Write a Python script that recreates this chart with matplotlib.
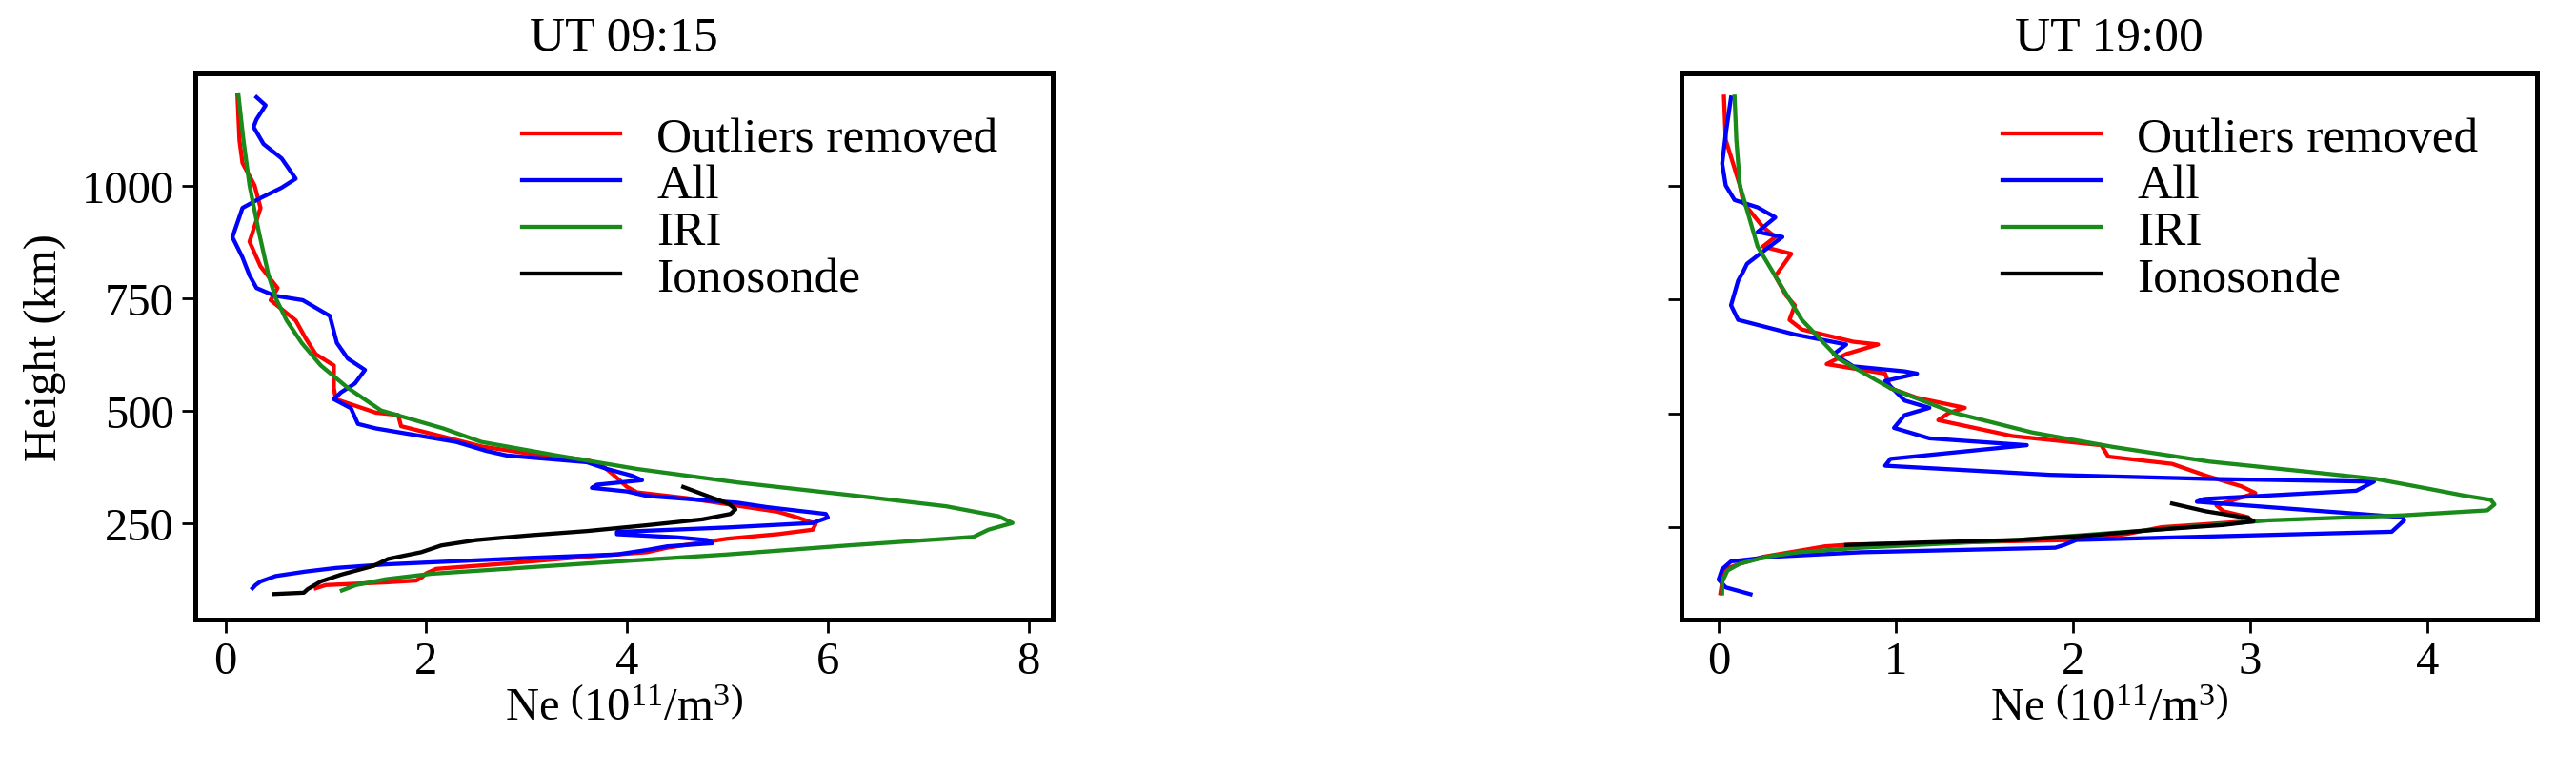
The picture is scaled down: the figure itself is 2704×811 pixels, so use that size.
import matplotlib
matplotlib.use("Agg")
import matplotlib.pyplot as plt

# ---------------- data: UT 09:15 (left) ----------------
l_red_h = [105, 112, 118, 122, 128, 138, 148, 160, 175, 185, 195, 205, 215, 225, 235, 248, 262, 275, 290, 305, 318, 330, 340, 360, 378, 390, 405, 420, 440, 465, 490, 495, 525, 550, 600, 625, 660, 700, 745, 772, 800, 820, 875, 950, 1000, 1050, 1100, 1150, 1200]
l_red_x = [0.90, 1.0, 1.6, 1.9, 1.95, 2.0, 2.1, 2.8, 3.6, 4.2, 4.4, 4.7, 5.0, 5.5, 5.85, 5.88, 5.7, 5.5, 5.05, 4.6, 4.1, 4.0, 3.95, 3.85, 3.75, 3.6, 3.0, 2.55, 2.2, 1.75, 1.72, 1.5, 1.1, 1.08, 1.08, 0.9, 0.8, 0.70, 0.45, 0.52, 0.42, 0.35, 0.24, 0.35, 0.29, 0.17, 0.14, 0.13, 0.12]

l_blue_h = [105, 112, 120, 132, 142, 150, 158, 172, 180, 190, 198, 205, 212, 218, 225, 230, 240, 250, 262, 270, 285, 295, 310, 320, 328, 335, 345, 355, 370, 385, 400, 410, 430, 445, 460, 470, 490, 505, 525, 540, 560, 590, 615, 650, 710, 745, 755, 772, 800, 840, 885, 950, 972, 995, 1015, 1060, 1092, 1130, 1147, 1178, 1196]
l_blue_x = [0.27, 0.30, 0.35, 0.50, 0.8, 1.1, 1.6, 3.0, 3.9, 4.2, 4.4, 4.85, 4.8, 4.5, 3.9, 3.9, 5.0, 5.85, 6.0, 5.98, 5.4, 5.1, 4.2, 4.0, 3.65, 3.7, 4.15, 4.05, 3.8, 3.6, 2.8, 2.6, 2.3, 1.9, 1.5, 1.32, 1.28, 1.25, 1.08, 1.15, 1.29, 1.39, 1.22, 1.11, 1.04, 0.77, 0.49, 0.31, 0.24, 0.17, 0.07, 0.17, 0.35, 0.56, 0.70, 0.56, 0.38, 0.28, 0.31, 0.40, 0.31]

l_iri_h = [100, 112, 125, 137, 160, 180, 200, 219, 235, 250, 265, 287, 310, 340, 370, 400, 430, 460, 500, 550, 600, 650, 700, 750, 800, 900, 1000, 1100, 1200]
l_iri_x = [1.16, 1.30, 1.6, 2.05, 3.6, 5.0, 6.2, 7.45, 7.6, 7.84, 7.7, 7.18, 6.3, 5.1, 4.1, 3.3, 2.55, 2.17, 1.55, 1.22, 0.95, 0.76, 0.61, 0.50, 0.43, 0.33, 0.24, 0.18, 0.13]

l_iono_h = [92, 95, 103, 120, 135, 155, 170, 185, 200, 212, 222, 232, 245, 258, 270, 280, 292, 310, 330]
l_iono_x = [0.48, 0.78, 0.82, 0.95, 1.15, 1.48, 1.62, 1.95, 2.15, 2.5, 3.0, 3.6, 4.2, 4.75, 5.03, 5.08, 5.02, 4.8, 4.56]

# ---------------- data: UT 19:00 (right) ----------------
r_red_h = [105, 130, 158, 170, 185, 200, 208, 212, 218, 222, 235, 250, 262, 272, 285, 298, 315, 325, 340, 362, 389, 405, 430, 450, 485, 501, 512, 534, 555, 587, 608, 630, 651, 657, 684, 705, 737, 759, 801, 850, 866, 887, 909, 962, 1000, 1100, 1195]
r_red_x = [0.01, 0.02, 0.04, 0.12, 0.25, 0.48, 0.6, 0.75, 1.5, 2.0, 2.3, 2.5, 2.95, 2.99, 2.85, 2.81, 2.95, 3.03, 2.95, 2.76, 2.56, 2.20, 2.16, 1.66, 1.24, 1.30, 1.39, 1.12, 0.97, 0.94, 0.61, 0.72, 0.90, 0.76, 0.47, 0.40, 0.43, 0.38, 0.32, 0.41, 0.25, 0.32, 0.25, 0.14, 0.12, 0.04, 0.03]

r_blue_h = [103, 118, 135, 158, 175, 185, 195, 205, 211, 222, 240, 265, 272, 306, 312, 330, 350, 356, 365, 385, 400, 430, 445, 468, 496, 512, 528, 571, 587, 592, 603, 630, 651, 673, 705, 737, 791, 812, 828, 855, 887, 898, 930, 952, 968, 1000, 1048, 1113, 1193]
r_blue_x = [0.18, 0.04, 0.00, 0.02, 0.07, 0.3, 0.8, 1.9, 1.95, 2.02, 3.80, 3.87, 3.86, 2.70, 2.74, 3.60, 3.70, 2.77, 1.87, 0.94, 0.97, 1.74, 1.19, 0.99, 1.05, 1.19, 1.05, 0.94, 1.12, 1.05, 0.76, 0.65, 0.72, 0.43, 0.11, 0.07, 0.11, 0.14, 0.16, 0.25, 0.36, 0.22, 0.32, 0.22, 0.09, 0.04, 0.02, 0.04, 0.07]

r_iri_h = [105, 130, 155, 170, 185, 195, 205, 222, 244, 265, 276, 287, 300, 310, 320, 335, 356, 372, 394, 426, 458, 501, 555, 619, 705, 801, 866, 1000, 1100, 1195]
r_iri_x = [0.02, 0.02, 0.05, 0.12, 0.27, 0.45, 0.8, 1.69, 2.45, 3.1, 3.86, 4.34, 4.38, 4.36, 4.2, 4.0, 3.71, 3.32, 2.77, 2.23, 1.77, 1.33, 0.97, 0.68, 0.47, 0.32, 0.22, 0.12, 0.10, 0.09]

r_iono_h = [211, 217, 222, 232, 244, 255, 263, 270, 285, 302]
r_iono_x = [0.72, 1.2, 1.69, 2.1, 2.45, 2.85, 3.02, 2.99, 2.75, 2.56]

titles = ["UT 09:15", "UT 19:00"]
labels = ["Outliers removed", "All", "IRI", "Ionosonde"]
xticks_l = [0, 2, 4, 6, 8]
xticks_r = [0, 1, 2, 3, 4]
yticks = [250, 500, 750, 1000]

# ---------------- style ----------------
plt.rcParams['font.family'] = ['Liberation Serif', 'DejaVu Serif']
plt.rcParams['mathtext.fontset'] = 'custom'
plt.rcParams['mathtext.rm'] = 'Liberation Serif'
plt.rcParams['mathtext.it'] = 'Liberation Serif:italic'

W, H = 2704, 812
fig = plt.figure(figsize=(W / 100, H / 100), dpi=100)

def frac(x0, y0, x1, y1):
    return [x0 / W, 1 - y1 / H, (x1 - x0) / W, (y1 - y0) / H]

axL = fig.add_axes(frac(205, 77.5, 1105, 650.7))
axR = fig.add_axes(frac(1765, 77.5, 2663, 650.7))

colors = ['#ff0000', '#0000ff', '#1a8a1a', '#000000']
lw = 3.1
fs = 35

def draw(ax, series, xticks, xlim, ylim, title, showy, legx):
    lines = []
    for (h, x), c, lab in zip(series, colors, labels):
        ln, = ax.plot(x, h, color=c, lw=lw, label=lab, solid_joinstyle='round')
        lines.append(ln)
    ax.set_xlim(*xlim)
    ax.set_ylim(*ylim)
    ax.set_xticks(xticks)
    ax.set_yticks(yticks)
    if not showy:
        ax.set_yticklabels([])
    for s in ax.spines.values():
        s.set_linewidth(3.6)
    ax.tick_params(direction='out', length=10, width=2.0, labelsize=fs, pad=6)
    ax.set_title(title, fontsize=37, pad=18)
    ax.set_xlabel(r'Ne $\left(10^{11}/\mathrm{m}^{3}\right)$', fontsize=fs, labelpad=4)
    if showy:
        ax.set_ylabel('Height (km)', fontsize=fs, labelpad=12)
    ax.legend(handles=lines, loc='upper left', bbox_to_anchor=(legx, 0.92),
              frameon=False, fontsize=37, handlelength=2.0, handletextpad=0.75,
              labelspacing=0.04, borderpad=0, borderaxespad=0)

draw(axL, [(l_red_h, l_red_x), (l_blue_h, l_blue_x), (l_iri_h, l_iri_x), (l_iono_h, l_iono_x)],
     xticks_l, (-0.30, 8.24), (36, 1250), titles[0], True, 0.381)
draw(axR, [(r_red_h, r_red_x), (r_blue_h, r_blue_x), (r_iri_h, r_iri_x), (r_iono_h, r_iono_x)],
     xticks_r, (-0.21, 4.62), (48, 1247), titles[1], False, 0.375)

fig.savefig('out.png', dpi=100)
